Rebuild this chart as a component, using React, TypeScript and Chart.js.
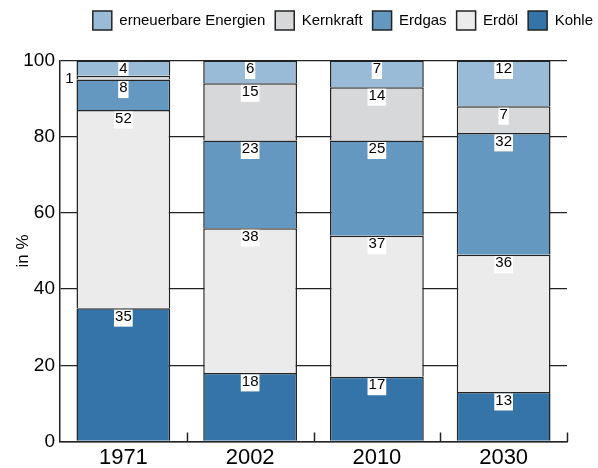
import React, { useEffect, useRef } from 'react';
import { Chart, registerables } from 'chart.js';

Chart.register(...registerables);

const years = ['1971', '2002', '2010', '2030'];
const kohle = [35, 18, 17, 13];
const erdoel = [52, 38, 37, 36];
const erdgas = [8, 23, 25, 32];
const kernkraft = [1, 15, 14, 7];
const erneuerbare = [4, 6, 7, 12];
const yTickStep = 20;
const yMax = 100;

const FONT = '"Liberation Sans", Arial, Helvetica, sans-serif';
const LINE = '#232323';

const legendMargin = {
  id: 'legendMargin',
  beforeInit(chart: any) {
    const legend = chart.legend;
    if (!legend) return;
    const fit = legend.fit;
    legend.fit = function () {
      fit.bind(legend)();
      this.height += 20.5;
    };
  },
  afterLayout(chart: any) {
    if (chart.legend) chart.legend.right += 5;
  },
};

const segmentLabels = {
  id: 'segmentLabels',
  afterDatasetsDraw(chart: any) {
    const ctx = chart.ctx;
    ctx.save();
    ctx.font = `15px ${FONT}`;
    chart.data.datasets.forEach((ds: any, di: number) => {
      const meta = chart.getDatasetMeta(di);
      meta.data.forEach((el: any, i: number) => {
        const v = ds.data[i];
        const { x, y, base, width } = el.getProps(['x', 'y', 'base', 'width'], true);
        const text = String(v);
        const tw = ctx.measureText(text).width;
        const h = base - y;
        if (h < 10) {
          const cx = x - width / 2 - 7;
          const cy = (y + base) / 2;
          ctx.fillStyle = '#fff';
          ctx.fillRect(cx - tw / 2 - 1, cy - 8, tw + 2, 16);
          ctx.fillStyle = '#000';
          ctx.textAlign = 'center';
          ctx.textBaseline = 'middle';
          ctx.fillText(text, cx, cy + 1);
        } else {
          ctx.save();
          ctx.beginPath();
          ctx.rect(x - width / 2, y, width, h);
          ctx.clip();
          ctx.fillStyle = '#fff';
          ctx.fillRect(x - tw / 2 - 1, y + 1.5, tw + 2, 17);
          ctx.fillStyle = '#000';
          ctx.textAlign = 'center';
          ctx.textBaseline = 'top';
          ctx.fillText(text, x, y + 1);
          ctx.restore();
        }
      });
    });
    ctx.restore();
  },
};

const boundaryTicks = {
  id: 'boundaryTicks',
  afterDraw(chart: any) {
    const { ctx, chartArea } = chart;
    const n = chart.data.labels.length;
    const w = (chartArea.right - chartArea.left) / n;
    ctx.save();
    ctx.strokeStyle = LINE;
    ctx.lineWidth = 1.5;
    for (let i = 1; i <= n; i++) {
      const x = Math.round(chartArea.left + i * w) + 0.5;
      ctx.beginPath();
      ctx.moveTo(x, chartArea.bottom);
      ctx.lineTo(x, chartArea.bottom - 9);
      ctx.stroke();
    }
    ctx.restore();
  },
};

export default function App() {
  const ref = useRef<HTMLCanvasElement>(null);
  useEffect(() => {
    const mk = (label: string, data: number[], color: string) => ({
      label,
      data,
      backgroundColor: color,
      borderColor: LINE,
      borderWidth: 1.5,
      barPercentage: 0.74,
      categoryPercentage: 1,
    });
    const chart = new Chart(ref.current as HTMLCanvasElement, {
      type: 'bar',
      data: {
        labels: years,
        datasets: [
          mk('Kohle', kohle, '#3474a9'),
          mk('Erdöl', erdoel, '#ebebeb'),
          mk('Erdgas', erdgas, '#6598c0'),
          mk('Kernkraft', kernkraft, '#d7d8da'),
          mk('erneuerbare Energien', erneuerbare, '#99bbd7'),
        ],
      },
      options: {
        responsive: true,
        maintainAspectRatio: false,
        animation: false,
        layout: { padding: { top: 1, left: 0, right: 0, bottom: 0 } },
        plugins: {
          tooltip: { enabled: false },
          legend: {
            position: 'top',
            align: 'end',
            reverse: true,
            labels: {
              boxWidth: 19,
              boxHeight: 19,
              padding: 10,
              color: '#000',
              font: { family: FONT, size: 15 },
            },
          },
        },
        scales: {
          x: {
            stacked: true,
            grid: { display: false },
            border: { display: true, color: LINE, width: 1.5 },
            ticks: { color: '#000', font: { family: FONT, size: 22 }, padding: -5 },
            afterFit(s: any) {
              s.height = 26.5;
            },
          },
          y: {
            stacked: true,
            min: 0,
            max: yMax,
            ticks: {
              stepSize: yTickStep,
              color: '#000',
              padding: 5,
              font: { family: FONT, size: 19 },
            },
            grid: { color: LINE, lineWidth: 1.3, drawTicks: false },
            border: { display: true, color: LINE, width: 1.5 },
            title: {
              display: true,
              text: 'in %',
              color: '#000',
              font: { family: FONT, size: 17 },
              padding: { top: 13, bottom: 0 },
            },
            afterFit(s: any) {
              s.width = 60;
            },
          },
          yR: {
            position: 'right',
            display: true,
            grid: { display: false, drawTicks: false },
            border: { display: false },
            ticks: { display: false },
            afterFit(s: any) {
              s.width = 31;
            },
          },
        },
      } as any,
      plugins: [legendMargin, segmentLabels, boundaryTicks],
    });
    return () => chart.destroy();
  }, []);
  return (
    <div style={{ position: 'absolute', left: 0, top: 0, width: 598, height: 468 }}>
      <canvas ref={ref} />
    </div>
  );
}
